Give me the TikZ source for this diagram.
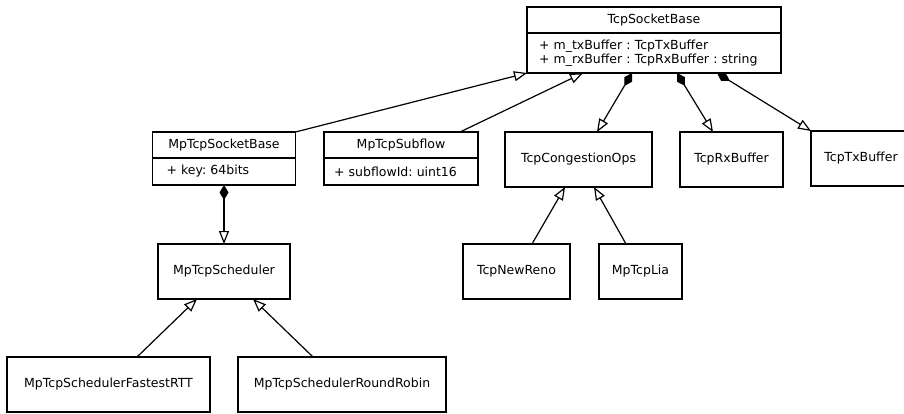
\documentclass[tikz,border=0pt]{standalone}
\usepackage{fontspec}
\setsansfont{DejaVu Sans}
\usetikzlibrary{arrows.meta,positioning}
\newcommand{\umlfont}{\sffamily\fontsize{12.5}{14}\selectfont\frenchspacing}

\begin{document}
\begin{tikzpicture}[x=1pt,y=-1pt,
    classbox/.style={draw, line width=1.2pt, inner sep=0pt, outer sep=0pt, font=\umlfont, align=center},
    attrbox/.style={classbox, align=left, inner ysep=0pt},
    inherit/.style={-{Triangle[open,length=13pt,width=10pt]}, line width=1.2pt},
    compose/.style={{Diamond[length=15pt,width=9pt]}-{Triangle[open,length=13pt,width=10pt]}, line width=1.2pt}]
    \useasboundingbox (0,0) rectangle (904,414);
    % top class with its attributes
    \node (tsb) at (654,20)[classbox, minimum width=254pt, minimum height=26pt]{TcpSocketBase};
    \node (tsba)[attrbox, below=0pt of tsb, text width=230pt, inner xsep=12pt, minimum height=40pt]{+ m\_txBuffer : TcpTxBuffer\\+ m\_rxBuffer : TcpRxBuffer : string};
    % second row
    \node (mtsb) at (224,145)[classbox, minimum width=143pt, minimum height=26pt]{MpTcpSocketBase};
    \node (mtsba)[attrbox, below=0pt of mtsb, text width=115pt, inner xsep=14pt, minimum height=27pt]{+ key: 64bits};
    \node (sub) at (401,145)[classbox, minimum width=154pt, minimum height=26pt]{MpTcpSubflow};
    \node (suba)[attrbox, below=0pt of sub, text width=134pt, inner xsep=10pt, minimum height=27pt]{+ subflowId: uint16};
    \node (tco) at (578.5,159.5)[classbox, minimum width=147pt, minimum height=55pt]{TcpCongestionOps};
    \node (rx) at (731.5,159.5)[classbox, minimum width=103pt, minimum height=55pt]{TcpRxBuffer};
    \node (tx) at (861,158.5)[classbox, minimum width=100pt, minimum height=55pt]{TcpTxBuffer};
    % third row
    \node (sched) at (224,271.5)[classbox, minimum width=132pt, minimum height=55pt]{MpTcpScheduler};
    \node (reno) at (516.5,271.5)[classbox, minimum width=107pt, minimum height=55pt]{TcpNewReno};
    \node (lia) at (640.5,271.5)[classbox, minimum width=83pt, minimum height=55pt]{MpTcpLia};
    % bottom row
    \node (fast) at (108.5,384.5)[classbox, minimum width=203pt, minimum height=55pt]{MpTcpSchedulerFastestRTT};
    \node (rr) at (342,384.5)[classbox, minimum width=208pt, minimum height=55pt]{MpTcpSchedulerRoundRobin};
    % connectors
    \draw[inherit] (mtsb.north east) -- (tsba.south west);
    \draw[inherit] ([xshift=136pt]sub.north west) -- ([xshift=56pt]tsba.south west);
    \draw[compose] ([xshift=105pt]tsba.south west) -- ([xshift=92pt]tco.north west);
    \draw[compose] ([xshift=150pt]tsba.south west) -- ([xshift=33pt]rx.north west);
    \draw[compose] ([xshift=190pt]tsba.south west) -- (tx.north west);
    \draw[compose] (mtsba.south) -- (sched.north);
    \draw[inherit] ([xshift=130pt]fast.north west) -- ([xshift=39pt]sched.south west);
    \draw[inherit] ([xshift=75pt]rr.north west) -- ([xshift=95pt]sched.south west);
    \draw[inherit] ([xshift=69pt]reno.north west) -- ([xshift=60pt]tco.south west);
    \draw[inherit] ([xshift=27pt]lia.north west) -- ([xshift=89pt]tco.south west);
\end{tikzpicture}
\end{document}
